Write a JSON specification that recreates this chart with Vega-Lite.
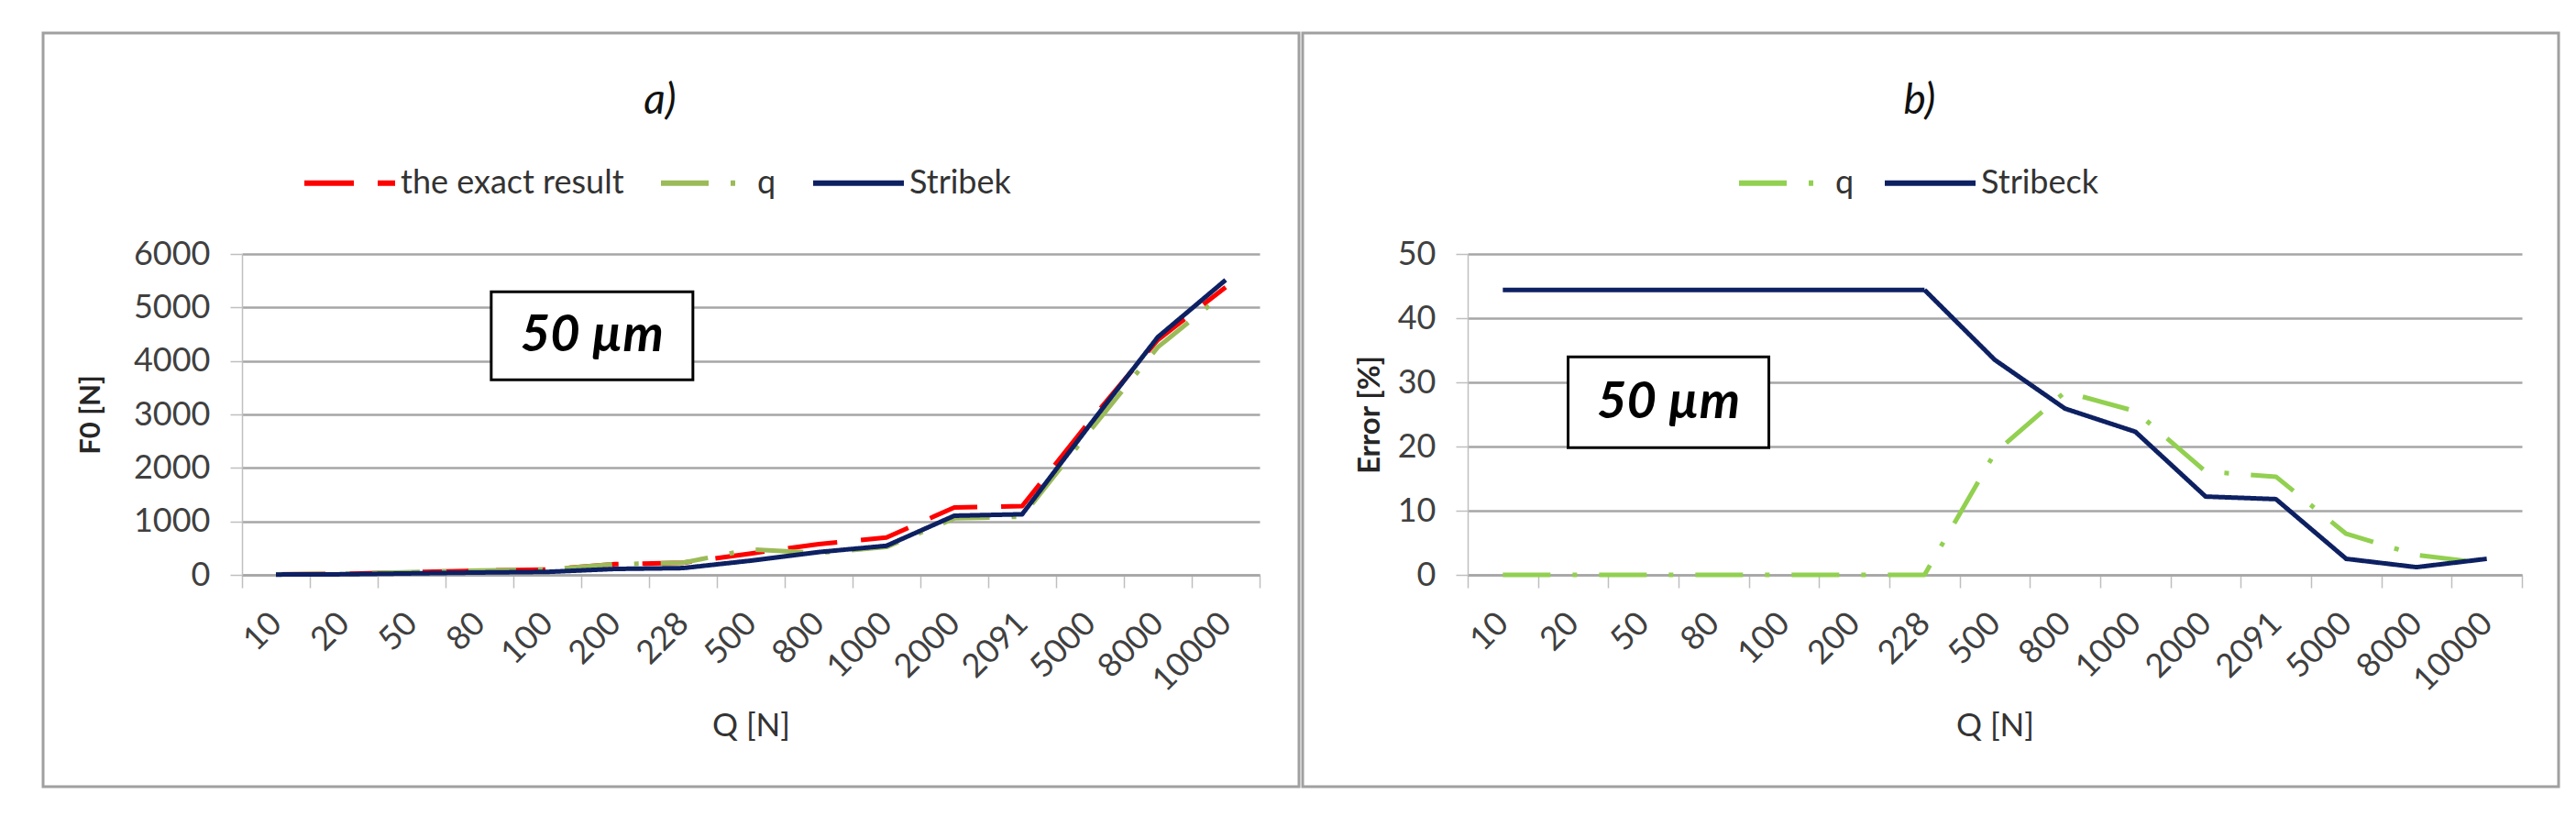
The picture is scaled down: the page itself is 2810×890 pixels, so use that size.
{
  "$schema": "https://vega.github.io/schema/vega-lite/v6.json",
  "background": "white",
  "padding": {"left": 32, "top": 34, "right": 0, "bottom": 0},
  "spacing": 4,
  "bounds": "flush",
  "resolve": {"scale": {"color": "independent", "strokeDash": "independent"}, "legend": {"color": "independent", "strokeDash": "independent"}},
  "datasets": {
    "f0": [
      {"series": "the exact result", "Q": "10", "F0": 10},
      {"series": "the exact result", "Q": "20", "F0": 20},
      {"series": "the exact result", "Q": "50", "F0": 50},
      {"series": "the exact result", "Q": "80", "F0": 80},
      {"series": "the exact result", "Q": "100", "F0": 100},
      {"series": "the exact result", "Q": "200", "F0": 200},
      {"series": "the exact result", "Q": "228", "F0": 228},
      {"series": "the exact result", "Q": "500", "F0": 400},
      {"series": "the exact result", "Q": "800", "F0": 575},
      {"series": "the exact result", "Q": "1000", "F0": 700},
      {"series": "the exact result", "Q": "2000", "F0": 1260},
      {"series": "the exact result", "Q": "2091", "F0": 1285},
      {"series": "the exact result", "Q": "5000", "F0": 2880},
      {"series": "the exact result", "Q": "8000", "F0": 4393},
      {"series": "the exact result", "Q": "10000", "F0": 5380},
      {"series": "q", "Q": "10", "F0": 10},
      {"series": "q", "Q": "20", "F0": 20},
      {"series": "q", "Q": "50", "F0": 50},
      {"series": "q", "Q": "80", "F0": 80},
      {"series": "q", "Q": "100", "F0": 100},
      {"series": "q", "Q": "200", "F0": 200},
      {"series": "q", "Q": "228", "F0": 228},
      {"series": "q", "Q": "500", "F0": 478},
      {"series": "q", "Q": "800", "F0": 411},
      {"series": "q", "Q": "1000", "F0": 521},
      {"series": "q", "Q": "2000", "F0": 1057},
      {"series": "q", "Q": "2091", "F0": 1088},
      {"series": "q", "Q": "5000", "F0": 2696},
      {"series": "q", "Q": "8000", "F0": 4257},
      {"series": "q", "Q": "10000", "F0": 5283},
      {"series": "Stribek", "Q": "10", "F0": 6},
      {"series": "Stribek", "Q": "20", "F0": 11},
      {"series": "Stribek", "Q": "50", "F0": 28},
      {"series": "Stribek", "Q": "80", "F0": 44},
      {"series": "Stribek", "Q": "100", "F0": 56},
      {"series": "Stribek", "Q": "200", "F0": 111},
      {"series": "Stribek", "Q": "228", "F0": 127},
      {"series": "Stribek", "Q": "500", "F0": 266},
      {"series": "Stribek", "Q": "800", "F0": 426},
      {"series": "Stribek", "Q": "1000", "F0": 544},
      {"series": "Stribek", "Q": "2000", "F0": 1106},
      {"series": "Stribek", "Q": "2091", "F0": 1133},
      {"series": "Stribek", "Q": "5000", "F0": 2808},
      {"series": "Stribek", "Q": "8000", "F0": 4446},
      {"series": "Stribek", "Q": "10000", "F0": 5514}
    ],
    "err": [
      {"series": "q", "Q": "10", "Error": 0},
      {"series": "q", "Q": "20", "Error": 0},
      {"series": "q", "Q": "50", "Error": 0},
      {"series": "q", "Q": "80", "Error": 0},
      {"series": "q", "Q": "100", "Error": 0},
      {"series": "q", "Q": "200", "Error": 0},
      {"series": "q", "Q": "228", "Error": 0},
      {"series": "q", "Q": "500", "Error": 19},
      {"series": "q", "Q": "800", "Error": 28.5},
      {"series": "q", "Q": "1000", "Error": 25.5},
      {"series": "q", "Q": "2000", "Error": 16.1},
      {"series": "q", "Q": "2091", "Error": 15.3},
      {"series": "q", "Q": "5000", "Error": 6.4},
      {"series": "q", "Q": "8000", "Error": 3.1},
      {"series": "q", "Q": "10000", "Error": 1.8},
      {"series": "Stribeck", "Q": "10", "Error": 44.4},
      {"series": "Stribeck", "Q": "20", "Error": 44.4},
      {"series": "Stribeck", "Q": "50", "Error": 44.4},
      {"series": "Stribeck", "Q": "80", "Error": 44.4},
      {"series": "Stribeck", "Q": "100", "Error": 44.4},
      {"series": "Stribeck", "Q": "200", "Error": 44.4},
      {"series": "Stribeck", "Q": "228", "Error": 44.4},
      {"series": "Stribeck", "Q": "500", "Error": 33.5},
      {"series": "Stribeck", "Q": "800", "Error": 25.9},
      {"series": "Stribeck", "Q": "1000", "Error": 22.3},
      {"series": "Stribeck", "Q": "2000", "Error": 12.2},
      {"series": "Stribeck", "Q": "2091", "Error": 11.8},
      {"series": "Stribeck", "Q": "5000", "Error": 2.5},
      {"series": "Stribeck", "Q": "8000", "Error": 1.2},
      {"series": "Stribeck", "Q": "10000", "Error": 2.5}
    ],
    "boxA": [{"Q": "200", "F0": 4470, "label": "50 µm"}],
    "boxB": [{"Q": "50", "Error": 26.9, "label": "50 µm"}]
  },
  "hconcat": [
    {
      "width": 1370,
      "height": 822,
      "title": {"text": "a)", "font": "Lato", "fontSize": 46, "fontStyle": "italic", "fontWeight": "normal", "color": "#111111", "anchor": "middle", "offset": -120, "baseline": "middle", "dx": -12},
      "layer": [
        {
          "data": {"name": "f0"},
          "mark": {"type": "line", "strokeWidth": 5, "strokeCap": "butt", "strokeJoin": "round"},
          "encoding": {
            "x": {
              "field": "Q", "type": "ordinal",
              "scale": {"type": "band", "domain": ["10","20","50","80","100","200","228","500","800","1000","2000","2091","5000","8000","10000"], "range": [217, 1327], "paddingInner": 0, "paddingOuter": 0},
              "axis": {"title": "Q [N]", "offset": -231, "labelAngle": -45, "labelAlign": "right", "labelBaseline": "middle", "labelPadding": 33, "tickBand": "extent", "tickSize": 14, "tickWidth": 1.5, "tickColor": "#BFBFBF", "domainColor": "#A6A6A6", "domainWidth": 2.5, "grid": false, "labelOverlap": false, "labelBound": false, "labelFont": "Lato", "labelFontSize": 36, "labelColor": "#404040", "titleFont": "Lato", "titleFontSize": 35, "titleFontWeight": "normal", "titleColor": "#333333", "titleY": 164, "titleBaseline": "middle"}
            },
            "y": {
              "field": "F0", "type": "quantitative",
              "scale": {"domain": [0, 6000], "range": [591, 241], "nice": false},
              "axis": {"title": "F0 [N]", "offset": -217, "values": [0,1000,2000,3000,4000,5000,6000], "format": "d", "grid": true, "gridColor": "#A6A6A6", "gridWidth": 2.5, "tickSize": 13, "tickWidth": 1.5, "tickColor": "#BFBFBF", "domainColor": "#BFBFBF", "domainWidth": 1.5, "labelPadding": 22, "labelFont": "Lato", "labelFontSize": 36, "labelColor": "#404040", "titleFont": "Lato", "titleFontSize": 31, "titleFontWeight": "bold", "titleColor": "#262626", "titleX": -165, "titleBaseline": "middle"}
            },
            "color": {
              "field": "series", "type": "nominal",
              "scale": {"domain": ["the exact result", "q", "Stribek"], "range": ["#FF0000", "#9BBB59", "#0D2062"]},
              "legend": {"orient": "none", "legendX": 282, "legendY": 111, "direction": "horizontal", "title": null, "symbolType": "stroke", "symbolSize": 9801, "symbolStrokeWidth": 6, "labelOffset": 3, "columnPadding": 28, "labelLimit": 0, "labelFont": "Lato", "labelFontSize": 36, "labelColor": "#333333", "padding": 0}
            },
            "strokeDash": {
              "field": "series", "type": "nominal",
              "scale": {"domain": ["the exact result", "q", "Stribek"], "range": [[54, 26], [52, 24, 5, 24], [1, 0]]},
              "legend": {"orient": "none", "legendX": 282, "legendY": 111, "direction": "horizontal", "title": null, "symbolType": "stroke", "symbolSize": 9801, "symbolStrokeWidth": 6, "labelOffset": 3, "columnPadding": 28, "labelLimit": 0, "labelFont": "Lato", "labelFontSize": 36, "labelColor": "#333333", "padding": 0}
            }
          }
        },
        {
          "data": {"name": "boxA"},
          "mark": {"type": "point", "shape": "M-1,-0.436L1,-0.436L1,0.436L-1,0.436Z", "size": 48400, "filled": true, "fill": "white", "stroke": "black", "strokeWidth": 3, "opacity": 1},
          "encoding": {
            "x": {"field": "Q", "type": "ordinal", "bandPosition": 0.16},
            "y": {"field": "F0", "type": "quantitative"}
          }
        },
        {
          "data": {"name": "boxA"},
          "mark": {"type": "text", "font": "Lato", "fontSize": 56, "fontWeight": "bold", "fontStyle": "italic", "align": "center", "baseline": "middle", "color": "#000000"},
          "encoding": {
            "x": {"field": "Q", "type": "ordinal", "bandPosition": 0.16},
            "y": {"field": "F0", "type": "quantitative"},
            "text": {"field": "label"}
          }
        }
      ]
    },
    {
      "width": 1370,
      "height": 822,
      "title": {"text": "b)", "font": "Lato", "fontSize": 46, "fontStyle": "italic", "fontWeight": "normal", "color": "#111111", "anchor": "middle", "offset": -120, "baseline": "middle", "dx": -12},
      "layer": [
        {
          "data": {"name": "err"},
          "mark": {"type": "line", "strokeWidth": 5, "strokeCap": "butt", "strokeJoin": "round"},
          "encoding": {
            "x": {
              "field": "Q", "type": "ordinal",
              "scale": {"type": "band", "domain": ["10","20","50","80","100","200","228","500","800","1000","2000","2091","5000","8000","10000"], "range": [180, 1330], "paddingInner": 0, "paddingOuter": 0},
              "axis": {"title": "Q [N]", "offset": -231, "labelAngle": -45, "labelAlign": "right", "labelBaseline": "middle", "labelPadding": 33, "tickBand": "extent", "tickSize": 14, "tickWidth": 1.5, "tickColor": "#BFBFBF", "domainColor": "#A6A6A6", "domainWidth": 2.5, "grid": false, "labelOverlap": false, "labelBound": false, "labelFont": "Lato", "labelFontSize": 36, "labelColor": "#404040", "titleFont": "Lato", "titleFontSize": 35, "titleFontWeight": "normal", "titleColor": "#333333", "titleY": 164, "titleBaseline": "middle"}
            },
            "y": {
              "field": "Error", "type": "quantitative",
              "scale": {"domain": [0, 50], "range": [591, 241], "nice": false},
              "axis": {"title": "Error [%]", "offset": -180, "values": [0,10,20,30,40,50], "format": "d", "grid": true, "gridColor": "#A6A6A6", "gridWidth": 2.5, "tickSize": 13, "tickWidth": 1.5, "tickColor": "#BFBFBF", "domainColor": "#BFBFBF", "domainWidth": 1.5, "labelPadding": 22, "labelFont": "Lato", "labelFontSize": 36, "labelColor": "#404040", "titleFont": "Lato", "titleFontSize": 33, "titleFontWeight": "bold", "titleColor": "#262626", "titleX": -107, "titleBaseline": "middle"}
            },
            "color": {
              "field": "series", "type": "nominal",
              "scale": {"domain": ["q", "Stribeck"], "range": ["#92D050", "#0D2062"]},
              "legend": {"orient": "none", "legendX": 473, "legendY": 111, "direction": "horizontal", "title": null, "symbolType": "stroke", "symbolSize": 9801, "symbolStrokeWidth": 6, "labelOffset": 3, "columnPadding": 21, "labelLimit": 0, "labelFont": "Lato", "labelFontSize": 36, "labelColor": "#333333", "padding": 0}
            },
            "strokeDash": {
              "field": "series", "type": "nominal",
              "scale": {"domain": ["q", "Stribeck"], "range": [[52, 24, 5, 24], [1, 0]]},
              "legend": {"orient": "none", "legendX": 473, "legendY": 111, "direction": "horizontal", "title": null, "symbolType": "stroke", "symbolSize": 9801, "symbolStrokeWidth": 6, "labelOffset": 3, "columnPadding": 21, "labelLimit": 0, "labelFont": "Lato", "labelFontSize": 36, "labelColor": "#333333", "padding": 0}
            }
          }
        },
        {
          "data": {"name": "boxB"},
          "mark": {"type": "point", "shape": "M-1,-0.452L1,-0.452L1,0.452L-1,0.452Z", "size": 47961, "filled": true, "fill": "white", "stroke": "black", "strokeWidth": 3, "opacity": 1},
          "encoding": {
            "x": {"field": "Q", "type": "ordinal", "bandPosition": 0.857},
            "y": {"field": "Error", "type": "quantitative"}
          }
        },
        {
          "data": {"name": "boxB"},
          "mark": {"type": "text", "font": "Lato", "fontSize": 56, "fontWeight": "bold", "fontStyle": "italic", "align": "center", "baseline": "middle", "color": "#000000"},
          "encoding": {
            "x": {"field": "Q", "type": "ordinal", "bandPosition": 0.857},
            "y": {"field": "Error", "type": "quantitative"},
            "text": {"field": "label"}
          }
        }
      ]
    }
  ],
  "config": {
    "view": {"stroke": "#A0A0A0", "strokeWidth": 3},
    "font": "Lato"
  }
}
